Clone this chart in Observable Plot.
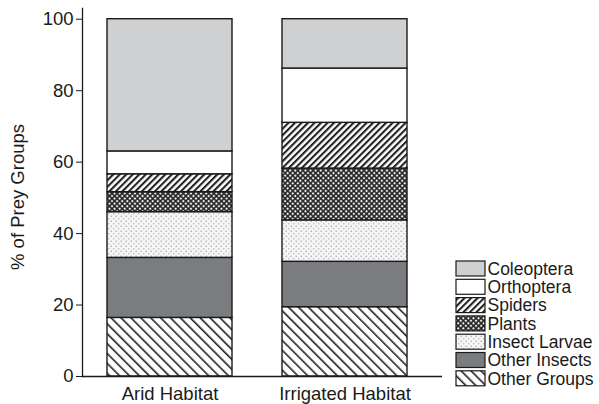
<!DOCTYPE html>
<html><head><meta charset="utf-8">
<script src="https://cdn.jsdelivr.net/npm/d3@7"></script>
<script src="https://cdn.jsdelivr.net/npm/@observablehq/plot@0.6"></script>
<style>body{margin:0;background:#fff} #chart{position:relative;width:599px;height:404px}</style>
</head><body><div id="chart"></div>
<script>
const habitats = ["Arid Habitat", "Irrigated Habitat"];
const groups = ["Other Groups", "Other Insects", "Insect Larvae", "Plants", "Spiders", "Orthoptera", "Coleoptera"];
const aridValues = [16.4, 16.8, 12.8, 5.6, 5.0, 6.4, 37.0];
const irrigatedValues = [19.4, 12.7, 11.6, 14.5, 12.8, 15.2, 13.8];
const yTicks = [0, 20, 40, 60, 80, 100];
const yLabel = "% of Prey Groups";
const legendOrder = ["Coleoptera", "Orthoptera", "Spiders", "Plants", "Insect Larvae", "Other Insects", "Other Groups"];
const fills = ["url(#pOther)", "#7b7c7f", "url(#pLarvae)", "url(#pPlants)", "url(#pSpiders)", "#ffffff", "#cfd0d2"];

const rows = [];
groups.forEach((g, i) => {
  rows.push({habitat: habitats[0], group: g, value: aridValues[i]});
  rows.push({habitat: habitats[1], group: g, value: irrigatedValues[i]});
});

const font = "'Liberation Sans', Arial, Helvetica, sans-serif";
const ink = "#1a1a1a";

const chart = Plot.plot({
  width: 599, height: 404,
  marginLeft: 82, marginRight: 157, marginTop: 8, marginBottom: 28,
  style: {fontFamily: font, color: ink, background: "#fff"},
  x: {domain: habitats, paddingInner: 0.284, paddingOuter: 0.165, align: 0.414},
  y: {domain: [0, 103]},
  color: {domain: groups, range: fills},
  marks: [
    Plot.barY(rows, Plot.stackY({x: "habitat", y: "value", fill: "group", order: groups, stroke: ink, strokeWidth: 1.4})),
    Plot.axisY({ticks: yTicks, tickSize: 6, tickPadding: 3, fontSize: 18.5, label: null}),
    Plot.axisX({tickSize: 0, tickPadding: 10.5, fontSize: 18.5, label: null}),
    Plot.ruleY([0], {stroke: ink, strokeWidth: 1.3}),
    Plot.frame({anchor: "left", stroke: ink, strokeWidth: 1.3})
  ]
});

const svg = d3.select(chart);
const defs = svg.insert("defs", ":first-child");
// Spiders: dense "/" hatch
const ps = defs.append("pattern").attr("id", "pSpiders").attr("patternUnits", "userSpaceOnUse")
  .attr("width", 4.6).attr("height", 4.6).attr("patternTransform", "rotate(45)");
ps.append("rect").attr("width", 4.6).attr("height", 4.6).attr("fill", "#fff");
ps.append("rect").attr("width", 2.1).attr("height", 4.6).attr("fill", "#222");
// Other Groups: sparser "\" hatch
const po = defs.append("pattern").attr("id", "pOther").attr("patternUnits", "userSpaceOnUse")
  .attr("width", 7).attr("height", 7).attr("patternTransform", "rotate(-45)");
po.append("rect").attr("width", 7).attr("height", 7).attr("fill", "#fff");
po.append("rect").attr("width", 1.6).attr("height", 7).attr("fill", "#222");
// Plants: dark cross-hatch with light dots
const pp = defs.append("pattern").attr("id", "pPlants").attr("patternUnits", "userSpaceOnUse")
  .attr("width", 3.6).attr("height", 3.6).attr("patternTransform", "rotate(45)");
pp.append("rect").attr("width", 3.6).attr("height", 3.6).attr("fill", "#262626");
pp.append("circle").attr("cx", 1.8).attr("cy", 1.8).attr("r", 1.15).attr("fill", "#f0f0f0");
// Insect Larvae: light stippled dots
const pl = defs.append("pattern").attr("id", "pLarvae").attr("patternUnits", "userSpaceOnUse")
  .attr("width", 5).attr("height", 5);
pl.append("rect").attr("width", 5).attr("height", 5).attr("fill", "#f5f5f5");
pl.append("circle").attr("cx", 1.2).attr("cy", 1.2).attr("r", 0.8).attr("fill", "#aaa");
pl.append("circle").attr("cx", 3.7).attr("cy", 3.7).attr("r", 0.8).attr("fill", "#bbb");

// Y axis title
svg.append("text")
  .attr("transform", "translate(17,197) rotate(-90)")
  .attr("text-anchor", "middle").attr("dy", "0.36em")
  .style("font-family", font).style("font-size", "18.5px").attr("fill", ink)
  .text(yLabel);

// Legend
const lg = svg.append("g").style("font-family", font).style("font-size", "17.5px").attr("fill", ink);
legendOrder.forEach((name, i) => {
  const y0 = 261 + i * 18.3;
  lg.append("rect").attr("x", 456).attr("y", y0).attr("width", 29).attr("height", 15)
    .attr("fill", fills[groups.indexOf(name)]).attr("stroke", ink).attr("stroke-width", 1.2);
  lg.append("text").attr("x", 487.5).attr("y", y0 + 7.5).attr("dy", "0.36em")
    .attr("text-anchor", "start").text(name);
});

document.getElementById("chart").appendChild(chart);
</script>
</body></html>
